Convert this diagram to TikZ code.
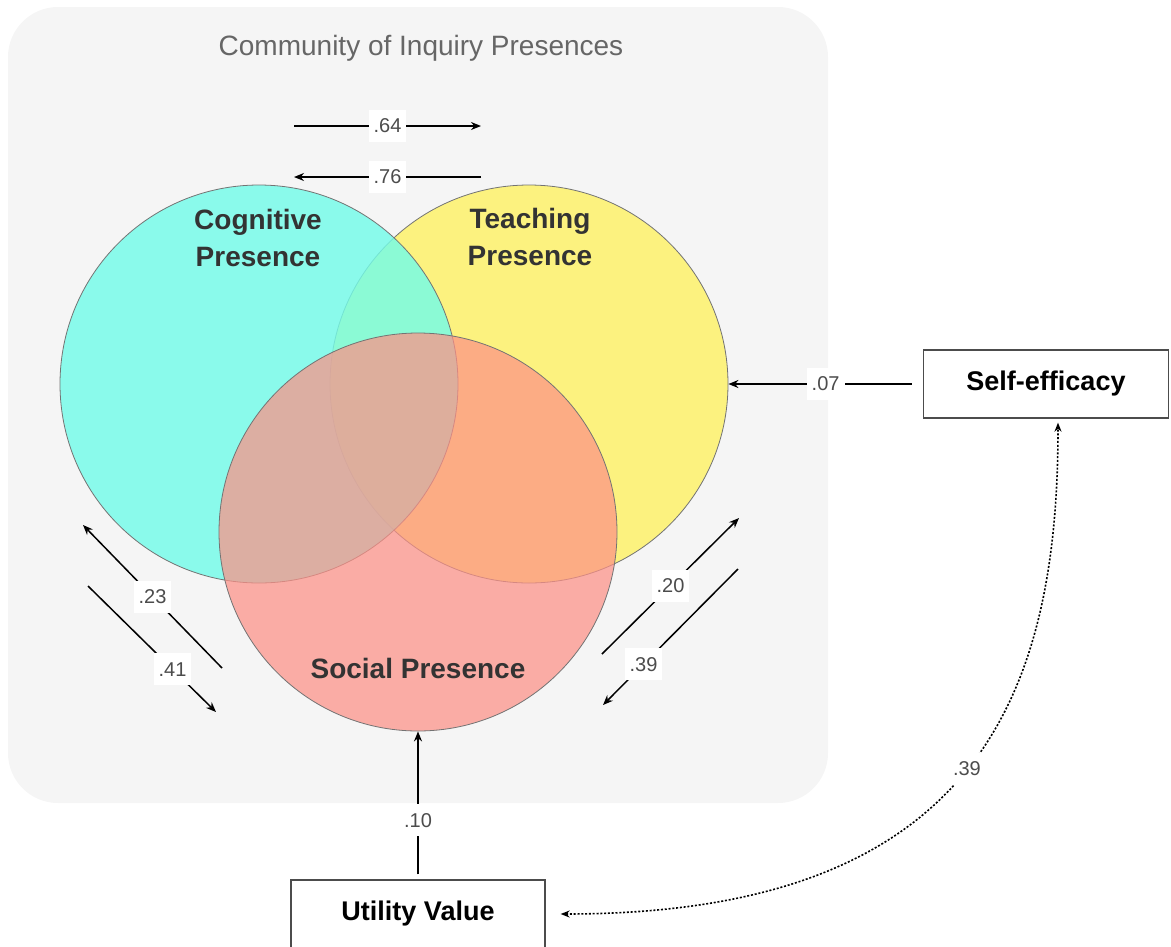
\documentclass[tikz,border=0pt]{standalone}
\usepackage{fontspec}
\setmainfont{Liberation Sans}
\usepackage{tikz}
\usetikzlibrary{arrows.meta,   % pointes de fleches
           calc,               % calculs de coordonnees
           positioning}
\definecolor{fond}{RGB}{245,245,245}
\definecolor{cyanp}{RGB}{115,252,233}
\definecolor{jaune}{RGB}{252,242,127}
\definecolor{rose}{RGB}{253,145,135}
\definecolor{titre}{RGB}{102,102,102}
\definecolor{texte}{RGB}{51,51,51}

\begin{document}
\begin{tikzpicture}[x=1pt,y=-1pt,
  cercle/.style={circle,draw=black!55,line width=0.8pt,minimum size=398pt,inner sep=0},
  boite/.style={rectangle,draw=black!70,line width=1.3pt,minimum width=245pt,minimum height=68pt,font=\fontsize{27}{30}\selectfont\bfseries},
  fl/.style={line width=1.5pt,-{Stealth[length=10pt,width=8pt]}},
  pt/.style={line width=1.6pt,dash pattern=on 2pt off 1.8pt,{Stealth[length=9pt,width=7pt]}-{Stealth[length=9pt,width=7pt]}},
  val/.style={fill=white,text=black!70,font=\fontsize{20}{22}\selectfont,inner xsep=5pt,minimum height=32pt},
  nom/.style={text=texte,font=\fontsize{28}{37}\selectfont\bfseries,align=center}]
\useasboundingbox (0,0) rectangle (1171,946);
\fill[fond,rounded corners=50pt] (8,7) rectangle (828,803);
\node[text=titre,font=\fontsize{28}{30}\selectfont] (T) at (421,48) {Community of Inquiry Presences};
% les trois presences
\node[cercle,fill=jaune] (TP) at (529,384) {};
\node[cercle,fill=cyanp,fill opacity=0.82] (CP) at (259,384) {};
\node[cercle,fill=rose,fill opacity=0.72] (SP) at (418,532) {};
\node[nom] (CPt) at (258,238) {Cognitive\\Presence};
\node[nom] (TPt) at (530,237) {Teaching\\Presence};
\node[nom] (SPt) at (418,668) {Social Presence};
\node[boite] (SE) at (1046,384) {Self-efficacy};
\node[boite,minimum width=254pt] (UV) at (418,914) {Utility Value};
% fleches libres
\coordinate (a1) at (294,126); \coordinate (b1) at (481,126);
\coordinate (a2) at (481,177); \coordinate (b2) at (294,177);
\coordinate (a3) at (222,668); \coordinate (b3) at (83,525);
\coordinate (a4) at (88,586);  \coordinate (b4) at (216,712);
\coordinate (a5) at (602,654); \coordinate (b5) at (739,518);
\coordinate (a6) at (738,569); \coordinate (b6) at (603,705);
\draw[fl](a1)--node[val]{.64}(b1);
\draw[fl](a2)--node[val]{.76}(b2);
\draw[fl](a3)--node[val]{.23}(b3);
\draw[fl](a4)--node[val,pos=0.66]{.41}(b4);
\draw[fl](a5)--node[val]{.20}(b5);
\draw[fl](a6)--node[val,pos=0.7]{.39}(b6);
\draw[fl,shorten <=11pt](SE.west)--node[val]{.07}(TP.east);
\draw[fl,shorten <=5pt](UV.north)--node[val,pos=0.4]{.10}(SP.south);
\draw[pt]($(UV.east)+(15,0)$) .. controls (981,914) and (1058,690) .. ($(SE.south)+(12,4)$) node[val,pos=0.5]{.39};
\end{tikzpicture}
\end{document}
